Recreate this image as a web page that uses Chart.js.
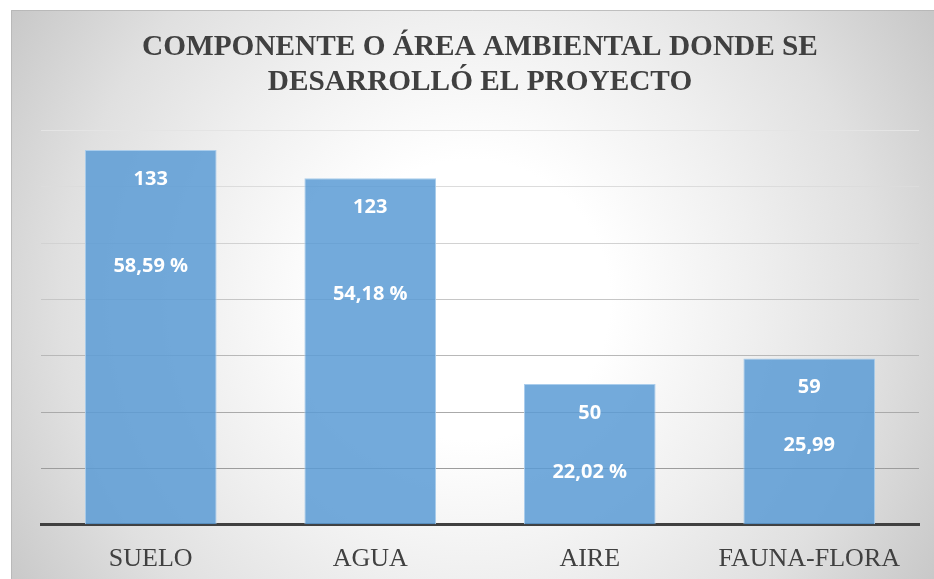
<!DOCTYPE html>
<html>
<head>
<meta charset="utf-8">
<script src="https://cdn.jsdelivr.net/npm/chart.js@4"></script>
<style>
html,body{margin:0;padding:0;background:#fff;}
#wrap{width:934px;height:579px;position:relative;}
</style>
</head>
<body>
<div id="wrap"><canvas id="c" width="934" height="579"></canvas></div>
<script>
const categories = ['SUELO', 'AGUA', 'AIRE', 'FAUNA-FLORA'];
const counts = [133, 123, 50, 59];
const percentLabels = ['58,59 %', '54,18 %', '22,02 %', '25,99'];
const titleLines = ['COMPONENTE O ÁREA AMBIENTAL DONDE SE', 'DESARROLLÓ EL PROYECTO'];
const yMax = 140;
const yStep = 20;

const bgPlugin = {
  id: 'bg',
  beforeDraw(chart) {
    const ctx = chart.ctx;
    ctx.save();
    ctx.fillStyle = '#ffffff';
    ctx.fillRect(0, 0, chart.width, chart.height);
    const g = ctx.createRadialGradient(470, 300, 0, 470, 300, 560);
    g.addColorStop(0, '#ffffff');
    g.addColorStop(0.25, '#ffffff');
    g.addColorStop(0.51, '#efefef');
    g.addColorStop(0.73, '#e0e0e0');
    g.addColorStop(0.97, '#c8c8c8');
    g.addColorStop(1, '#c6c6c6');
    ctx.fillStyle = g;
    ctx.fillRect(11, 10, chart.width - 11, chart.height - 10);
    ctx.strokeStyle = 'rgba(180,180,180,0.8)';
    ctx.lineWidth = 1;
    ctx.beginPath();
    ctx.moveTo(11.5, chart.height);
    ctx.lineTo(11.5, 10.5);
    ctx.lineTo(chart.width, 10.5);
    ctx.stroke();
    ctx.restore();
  }
};

const labelPlugin = {
  id: 'barLabels',
  afterDatasetsDraw(chart, args, opts) {
    const ctx = chart.ctx;
    const meta = chart.getDatasetMeta(0);
    ctx.save();
    ctx.fillStyle = '#ffffff';
    ctx.font = 'bold 20px "Open Sans"';
    ctx.textAlign = 'center';
    ctx.textBaseline = 'middle';
    meta.data.forEach((bar, i) => {
      ctx.fillText(String(counts[i]), bar.x, bar.y + opts.firstOffset);
      ctx.fillText(percentLabels[i], bar.x, bar.y + opts.firstOffset + opts.secondOffsets[i]);
    });
    ctx.restore();
  }
};

const gridColors = ['#909090', '#9c9c9c', '#aaaaaa', '#b8b8b8', '#c6c6c6', '#d2d2d2', '#dcdcdc', '#e4e4e4'];

new Chart(document.getElementById('c'), {
  type: 'bar',
  data: {
    labels: categories,
    datasets: [{
      data: counts,
      backgroundColor: 'rgba(91,155,213,0.85)',
      borderColor: 'rgba(170,205,236,1)',
      borderWidth: 1,
      barPercentage: 0.6,
      categoryPercentage: 1.0
    }]
  },
  options: {
    responsive: false,
    animation: false,
    layout: { padding: { left: 41, right: 15, top: 22, bottom: 0 } },
    plugins: {
      legend: { display: false },
      tooltip: { enabled: false },
      title: {
        display: true,
        text: titleLines,
        color: '#404040',
        font: { family: '"Liberation Serif", "Times New Roman", serif', size: 29.3, weight: 'bold', lineHeight: 1.2 },
        padding: { top: 8, bottom: 30 }
      },
      barLabels: { firstOffset: 29, secondOffsets: [87, 87, 59, 58] }
    },
    scales: {
      x: {
        grid: { display: false },
        border: { display: true, color: '#404040', width: 3 },
        ticks: {
          color: '#404040',
          font: { family: '"Liberation Serif", "Times New Roman", serif', size: 26 },
          padding: 11
        },
        afterFit(scale) { scale.height -= 7; }
      },
      y: {
        min: 0,
        max: yMax,
        ticks: { display: false, stepSize: yStep },
        border: { display: false },
        grid: {
          drawTicks: false,
          lineWidth: 1,
          color: (c) => gridColors[c.index] || '#d0d0d0'
        }
      }
    }
  },
  plugins: [bgPlugin, labelPlugin]
});
</script>
</body>
</html>
